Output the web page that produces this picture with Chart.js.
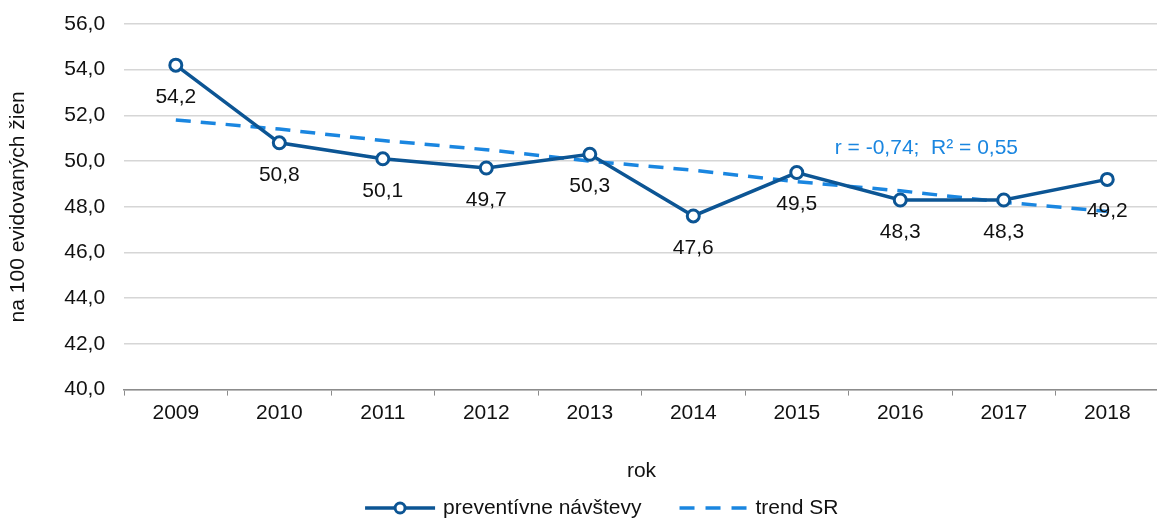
<!DOCTYPE html>
<html>
<head>
<meta charset="utf-8">
<script src="https://cdn.jsdelivr.net/npm/chart.js@4/dist/chart.umd.min.js"></script>
<style>
html,body{margin:0;padding:0;background:#fff;overflow:hidden;}
#wrap{position:relative;width:1168px;height:523px;}
</style>
</head>
<body>
<div id="wrap"><canvas id="c"></canvas></div>
<script>
const categories = ['2009','2010','2011','2012','2013','2014','2015','2016','2017','2018'];
const visits = [54.2, 50.8, 50.1, 49.7, 50.3, 47.6, 49.5, 48.3, 48.3, 49.2];
const trend = [51.8, 51.4, 50.9, 50.5, 50.0, 49.6, 49.1, 48.7, 48.2, 47.8];
const yTicks = [40, 42, 44, 46, 48, 50, 52, 54, 56];
const annotationText = 'r = -0,74;  R\u00B2 = 0,55';
const seriesNames = ['preventívne návštevy', 'trend SR'];

const DARK = '#0c5594';
const LIGHT = '#1a86e0';
const FONT = 'Liberation Sans, Arial, sans-serif';
const FS = 21;
const fmt = v => v.toFixed(1).replace('.', ',');

const labelsPlugin = {
  id: 'valueLabels',
  afterDatasetsDraw(chart) {
    const ctx = chart.ctx;
    const meta = chart.getDatasetMeta(0);
    ctx.save();
    ctx.font = FS + 'px ' + FONT;
    ctx.fillStyle = '#111';
    ctx.textAlign = 'center';
    ctx.textBaseline = 'middle';
    meta.data.forEach((pt, i) => {
      ctx.fillText(fmt(visits[i]), pt.x, pt.y + 32);
    });
    const xs = chart.scales.x, ys = chart.scales.y;
    ctx.fillStyle = LIGHT;
    ctx.textAlign = 'left';
    ctx.fillText(annotationText, xs.getPixelForValue(6) + 38, ys.getPixelForValue(50.58));
    ctx.restore();
  }
};

const legendPlugin = {
  id: 'customLegend',
  afterDraw(chart) {
    const ctx = chart.ctx;
    const ca = chart.chartArea;
    const y = chart.height - 15;
    let x = ca.left + 241;
    ctx.save();
    ctx.font = FS + 'px ' + FONT;
    ctx.textBaseline = 'middle';
    ctx.textAlign = 'left';
    ctx.lineWidth = 3.5;
    ctx.strokeStyle = DARK;
    ctx.beginPath(); ctx.moveTo(x, y); ctx.lineTo(x + 70, y); ctx.stroke();
    ctx.lineWidth = 3;
    ctx.fillStyle = '#fff';
    ctx.beginPath(); ctx.arc(x + 35, y, 5, 0, Math.PI * 2); ctx.fill(); ctx.stroke();
    ctx.fillStyle = '#111';
    ctx.fillText(seriesNames[0], x + 78, y);
    x = x + 78 + ctx.measureText(seriesNames[0]).width + 38;
    ctx.lineWidth = 3.5;
    ctx.strokeStyle = LIGHT;
    ctx.setLineDash([15, 11]);
    ctx.beginPath(); ctx.moveTo(x, y); ctx.lineTo(x + 68, y); ctx.stroke();
    ctx.setLineDash([]);
    ctx.fillStyle = '#111';
    ctx.fillText(seriesNames[1], x + 76, y);
    ctx.restore();
  }
};

new Chart(document.getElementById('c'), {
  type: 'line',
  data: {
    labels: categories,
    datasets: [
      {
        label: seriesNames[0],
        data: visits,
        borderColor: DARK,
        borderWidth: 3.5,
        pointRadius: 6,
        pointBorderWidth: 3,
        pointBackgroundColor: '#fff',
        pointBorderColor: DARK,
        tension: 0,
        order: 0
      },
      {
        label: seriesNames[1],
        data: trend,
        borderColor: LIGHT,
        borderWidth: 3.5,
        borderDash: [15, 10],
        pointRadius: 0,
        tension: 0,
        order: 1
      }
    ]
  },
  options: {
    responsive: true,
    maintainAspectRatio: false,
    animation: false,
    layout: { padding: { top: 24, left: 0, right: 1, bottom: 39 } },
    plugins: {
      tooltip: { enabled: false },
      legend: { display: false }
    },
    scales: {
      x: {
        offset: true,
        grid: {
          offset: true,
          drawOnChartArea: false,
          drawTicks: true,
          tickLength: 6,
          color: '#8c8c8c'
        },
        border: { display: true, color: '#8c8c8c', width: 1.5 },
        ticks: { color: '#111', font: { family: FONT, size: FS }, padding: 5 },
        title: {
          display: true,
          text: 'rok',
          color: '#111',
          font: { family: FONT, size: FS },
          padding: { top: 28, bottom: 0 }
        }
      },
      y: {
        min: 40,
        max: 56,
        afterBuildTicks: axis => { axis.ticks = yTicks.map(v => ({ value: v })); },
        afterFit: axis => { axis.paddingTop = 0; axis.paddingBottom = 0; },
        grid: { color: '#d6d6d6', lineWidth: 1.5, drawTicks: false },
        border: { display: false },
        ticks: {
          color: '#111',
          font: { family: FONT, size: FS },
          padding: 19,
          callback: v => fmt(v)
        },
        title: {
          display: true,
          text: 'na 100 evidovaných žien',
          color: '#111',
          font: { family: FONT, size: FS },
          padding: { top: 6, bottom: 14 }
        }
      }
    }
  },
  plugins: [labelsPlugin, legendPlugin]
});
</script>
</body>
</html>
